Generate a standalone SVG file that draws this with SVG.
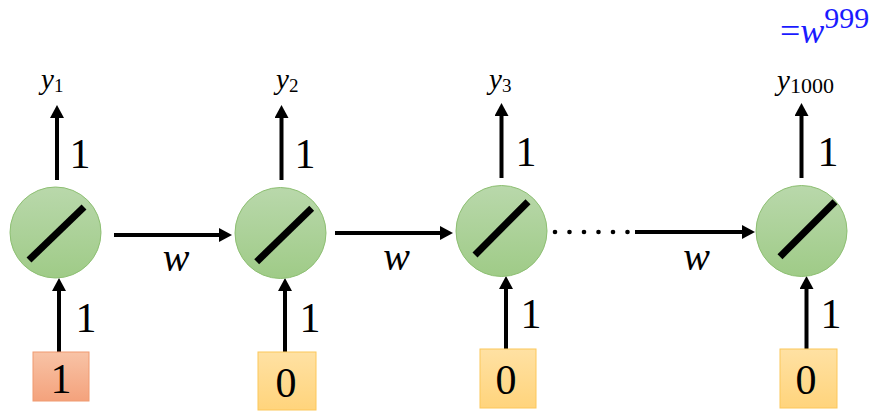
<svg xmlns="http://www.w3.org/2000/svg" width="876" height="420" viewBox="0 0 876 420">
<style>
  text{font-family:"Liberation Serif","DejaVu Serif","Times New Roman",serif;fill:#000;}
  .one{font-size:42px;text-anchor:middle;}
  .w{font-size:40px;font-style:italic;text-anchor:middle;}
  .y{font-size:29px;font-style:italic;}
  .sub{font-size:19px;font-style:normal;}
  .conn{stroke:#000;stroke-width:4;fill:none;marker-end:url(#ah);}
  .node{fill:url(#gGreen);stroke:#8dbf72;stroke-width:1;}
  .slash{stroke:#000;stroke-width:7;stroke-linecap:butt;}
  .boxR{fill:url(#gSalmon);stroke:#f09a70;stroke-width:1;}
  .boxY{fill:url(#gYellow);stroke:#fcc75a;stroke-width:1;}
  .blue{fill:#1a1aff;font-size:36px;}
</style>
<defs>
  <linearGradient id="gGreen" x1="0" y1="0" x2="0" y2="1">
    <stop offset="0" stop-color="#b9d8ab"/>
    <stop offset="1" stop-color="#9fcb87"/>
  </linearGradient>
  <linearGradient id="gSalmon" x1="0" y1="0" x2="0" y2="1">
    <stop offset="0" stop-color="#f8c3a6"/>
    <stop offset="1" stop-color="#f4a27c"/>
  </linearGradient>
  <linearGradient id="gYellow" x1="0" y1="0" x2="0" y2="1">
    <stop offset="0" stop-color="#ffe1a3"/>
    <stop offset="1" stop-color="#ffd47c"/>
  </linearGradient>
  <marker id="ah" viewBox="0 0 13 14" refX="2" refY="7" markerWidth="13" markerHeight="14" markerUnits="userSpaceOnUse" orient="auto">
    <path d="M0,0 L13,7 L0,14 z" fill="#000"/>
  </marker>
</defs>

<g id="connectors">
  <line class="conn" x1="57" y1="180" x2="57" y2="116"/>
  <line class="conn" x1="281.5" y1="180" x2="281.5" y2="116"/>
  <line class="conn" x1="501.5" y1="178" x2="501.5" y2="114"/>
  <line class="conn" x1="801.5" y1="178" x2="801.5" y2="114"/>
  <line class="conn" x1="59" y1="352" x2="59" y2="289"/>
  <line class="conn" x1="285" y1="352" x2="285" y2="289"/>
  <line class="conn" x1="506" y1="349" x2="506" y2="287"/>
  <line class="conn" x1="806.5" y1="349" x2="806.5" y2="287"/>
  <line class="conn" x1="114" y1="235" x2="221" y2="235"/>
  <line class="conn" x1="335" y1="233" x2="442" y2="233"/>
  <line class="conn" x1="635" y1="232" x2="744" y2="232"/>
  <g fill="#000">
    <circle cx="555" cy="232" r="2.3"/>
    <circle cx="569.5" cy="232" r="2.3"/>
    <circle cx="584" cy="232" r="2.3"/>
    <circle cx="598.5" cy="232" r="2.3"/>
    <circle cx="613" cy="232" r="2.3"/>
    <circle cx="627.5" cy="232" r="2.3"/>
  </g>
  <text class="one" x="80" y="168">1</text>
  <text class="one" x="305" y="168">1</text>
  <text class="one" x="526" y="166">1</text>
  <text class="one" x="828" y="166">1</text>
  <text class="one" x="86" y="332">1</text>
  <text class="one" x="310" y="332">1</text>
  <text class="one" x="531" y="328">1</text>
  <text class="one" x="831" y="328">1</text>
  <text class="w" x="176" y="271">w</text>
  <text class="w" x="396.5" y="270">w</text>
  <text class="w" x="696.5" y="270">w</text>
</g>

<g id="node1">
  <circle class="node" cx="55.5" cy="232.5" r="45.5"/>
  <line class="slash" x1="29" y1="260" x2="84" y2="207"/>
</g>
<g id="node2">
  <circle class="node" cx="280.5" cy="233" r="45.5"/>
  <line class="slash" x1="256.7" y1="261.7" x2="311.7" y2="208.3"/>
</g>
<g id="node3">
  <circle class="node" cx="501.5" cy="231" r="45.5"/>
  <line class="slash" x1="475" y1="255" x2="528" y2="201.7"/>
</g>
<g id="node4">
  <circle class="node" cx="801.5" cy="231" r="45.5"/>
  <line class="slash" x1="780" y1="256.7" x2="835" y2="201.7"/>
</g>

<g id="input1">
  <rect class="boxR" x="33" y="352" width="56" height="49"/>
  <text class="one" x="61" y="393">1</text>
</g>
<g id="input2">
  <rect class="boxY" x="258" y="352" width="58" height="58"/>
  <text class="one" x="286" y="397">0</text>
</g>
<g id="input3">
  <rect class="boxY" x="480" y="349" width="56" height="59"/>
  <text class="one" x="506" y="394">0</text>
</g>
<g id="input4">
  <rect class="boxY" x="780" y="349" width="57" height="59"/>
  <text class="one" x="806" y="394">0</text>
</g>

<g id="out1"><text class="y" x="41" y="89">y<tspan class="sub" dy="3">1</tspan></text></g>
<g id="out2"><text class="y" x="276" y="89">y<tspan class="sub" dy="3">2</tspan></text></g>
<g id="out3"><text class="y" x="489" y="89">y<tspan class="sub" dy="3">3</tspan></text></g>
<g id="out4"><text class="y" x="777" y="90">y<tspan class="sub" dy="3" style="font-size:22px">1000</tspan></text></g>

<g id="formula">
  <text class="blue" x="780" y="43">=<tspan font-style="italic">w</tspan><tspan dy="-15" style="font-size:30px">999</tspan></text>
</g>
</svg>
